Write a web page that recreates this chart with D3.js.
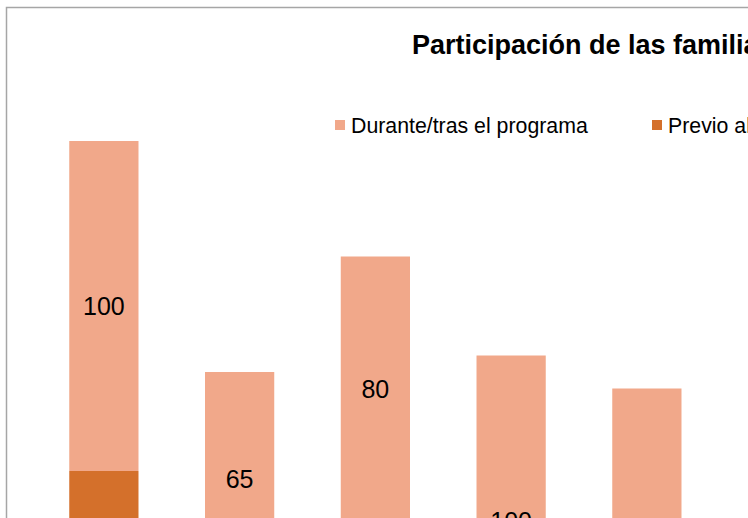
<!DOCTYPE html>
<html>
<head>
<meta charset="utf-8">
<script src="https://cdn.jsdelivr.net/npm/d3@7"></script>
<style>
  html, body { margin: 0; padding: 0; background: #fff; overflow: hidden; }
  svg { display: block; overflow: hidden; font-family: "Liberation Sans", Arial, sans-serif; }
</style>
</head>
<body>
<svg id="chart" width="748" height="518"></svg>
<script>
// data
var categories = ["Reuniones", "Talleres", "Visitas", "Actividades", "Eventos", "Otros"];
var durante = [100, 65, 80, 100, 90, 75];
var previo = [70, 35, 55, 5, 5, 20];
var seriesNames = ["Durante/tras el programa", "Previo al programa"];
var titleText = "Participación de las familias en el programa";

var colors = { durante: "#F1A88A", previo: "#D4702B" };

var svg = d3.select("#chart");

// chart frame (extends beyond the visible window)
svg.append("rect")
	.attr("x", 6.5).attr("y", 7.5)
	.attr("width", 1100).attr("height", 900)
	.attr("fill", "#fff")
	.attr("stroke", "#A6A6A6")
	.attr("stroke-width", 1.5);

svg.append("text")
	.attr("x", 412).attr("y", 54)
	.attr("font-size", 27)
	.attr("font-weight", "bold")
	.attr("fill", "#000")
	.text(titleText);

// legend
var legend = svg.append("g");
var legendX = [335, 652];
seriesNames.forEach(function (name, i) {
	var g = legend.append("g").attr("transform", `translate(${legendX[i]},120)`);
	g.append("rect").attr("width", 10).attr("height", 10)
		.attr("fill", i == 0 ? colors.durante : colors.previo);
	g.append("text").attr("x", 16).attr("y", 13)
		.attr("font-size", 21.3).attr("fill", "#000")
		.text(name);
});

// scales
var x = d3.scaleBand()
	.domain(categories)
	.range([36, 36 + 135.75 * categories.length])
	.paddingInner(0.49)
	.paddingOuter(0.245);

var y = d3.scaleLinear()
	.domain([0, 200])
	.range([702, 42]);

var rows = categories.map(function (c, i) {
	return { cat: c, previo: previo[i], durante: durante[i] };
});

var stack = d3.stack().keys(["previo", "durante"]);
var layers = stack(rows);

var groups = svg.selectAll("g.layer")
	.data(layers)
	.join("g")
	.attr("class", "layer")
	.attr("fill", function (d) { return colors[d.key]; });

groups.selectAll("rect")
	.data(function (d) { return d; })
	.join("rect")
	.attr("x", function (d) { return x(d.data.cat); })
	.attr("width", x.bandwidth())
	.attr("y", function (d) { return y(d[1]); })
	.attr("height", function (d) { return y(d[0]) - y(d[1]); });

groups.selectAll("text")
	.data(function (d) { return d; })
	.join("text")
	.attr("x", function (d) { return x(d.data.cat) + x.bandwidth() / 2; })
	.attr("y", function (d) { return (y(d[0]) + y(d[1])) / 2; })
	.attr("text-anchor", "middle")
	.attr("dominant-baseline", "central")
	.attr("font-size", 25)
	.attr("fill", "#000")
	.text(function (d) { return d[1] - d[0]; });
</script>
</body>
</html>
